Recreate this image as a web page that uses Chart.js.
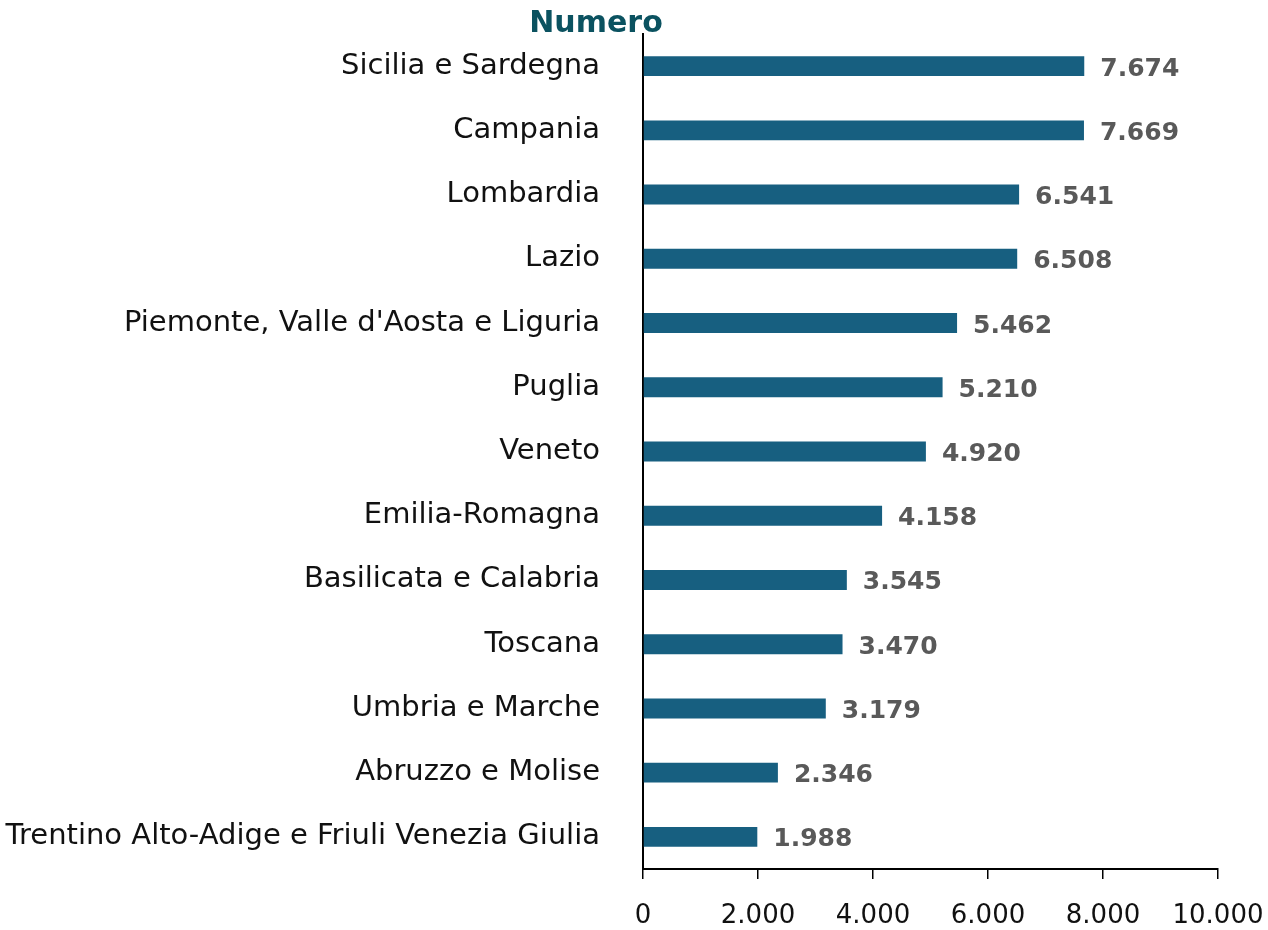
<!DOCTYPE html>
<html>
<head>
<meta charset="utf-8">
<script src="https://cdn.jsdelivr.net/npm/chart.js@4"></script>
<style>
  html, body { margin: 0; padding: 0; background: #fff; }
  #wrap { width: 1268px; height: 930px; }
</style>
</head>
<body>
<div id="wrap"><canvas id="graph1"></canvas></div>
<script>
const regions = [
  "Sicilia e Sardegna",
  "Campania",
  "Lombardia",
  "Lazio",
  "Piemonte, Valle d'Aosta e Liguria",
  "Puglia",
  "Veneto",
  "Emilia-Romagna",
  "Basilicata e Calabria",
  "Toscana",
  "Umbria e Marche",
  "Abruzzo e Molise",
  "Trentino Alto-Adige e Friuli Venezia Giulia",
];
const values = [7674, 7669, 6541, 6508, 5462, 5210, 4920, 4158, 3545, 3470, 3179, 2346, 1988];
const xTicks = [0, 2000, 4000, 6000, 8000, 10000];

const fontFamily = "'DejaVu Sans', sans-serif";
const barColor = "#175f80";
const titleColor = "#0b5260";

function fmt(v) {
  return v.toLocaleString("it-IT");
}

// value labels at the end of each bar
const valueLabels = {
  id: "valueLabels",
  afterDatasetsDraw(chart) {
    const ctx = chart.ctx;
    const meta = chart.getDatasetMeta(0);
    ctx.save();
    ctx.font = `bold 25px ${fontFamily}`;
    ctx.fillStyle = "#595959";
    ctx.textBaseline = "middle";
    meta.data.forEach((bar, i) => {
      ctx.fillText(fmt(values[i]), bar.x + 16, bar.y + 3);
    });
    ctx.restore();
  },
};

// title line (only "Numero" is visible in the picture)
const titleText = {
  id: "titleText",
  afterDraw(chart) {
    const ctx = chart.ctx;
    ctx.save();
    ctx.font = `bold 30px ${fontFamily}`;
    ctx.fillStyle = titleColor;
    ctx.textAlign = "center";
    ctx.textBaseline = "middle";
    ctx.fillText("Numero", 596, 24);
    ctx.restore();
  },
};

new Chart(document.getElementById("graph1"), {
  type: "bar",
  data: {
    labels: regions,
    datasets: [
      {
        data: values,
        backgroundColor: barColor,
        barPercentage: 0.62,
        categoryPercentage: 0.5,
      },
    ],
  },
  options: {
    indexAxis: "y",
    responsive: true,
    maintainAspectRatio: false,
    animation: false,
    layout: { padding: { top: 34, right: 0, left: 0, bottom: 0 } },
    plugins: {
      legend: { display: false },
      tooltip: { enabled: false },
    },
    scales: {
      x: {
        min: 0,
        max: 10000,
        afterBuildTicks(axis) {
          axis.ticks = xTicks.map((v) => ({ value: v }));
        },
        afterFit(axis) {
          axis.height = 61;
          axis.paddingRight = 50;
        },
        grid: {
          drawOnChartArea: false,
          drawTicks: true,
          tickLength: 10,
          color: "#000",
          lineWidth: 1.5,
        },
        border: { display: true, color: "#000", width: 2 },
        ticks: {
          color: "#111",
          padding: 22,
          font: { family: fontFamily, size: 26 },
          callback: (v) => fmt(v),
        },
      },
      y: {
        afterFit(axis) {
          axis.width = 643;
          axis.paddingTop = 0;
          axis.paddingBottom = 0;
        },
        grid: { display: false },
        border: { display: true, color: "#000", width: 2 },
        ticks: {
          color: "#111",
          padding: 35,
          font: { family: fontFamily, size: 29 },
        },
      },
    },
  },
  plugins: [valueLabels, titleText],
});
</script>
</body>
</html>
